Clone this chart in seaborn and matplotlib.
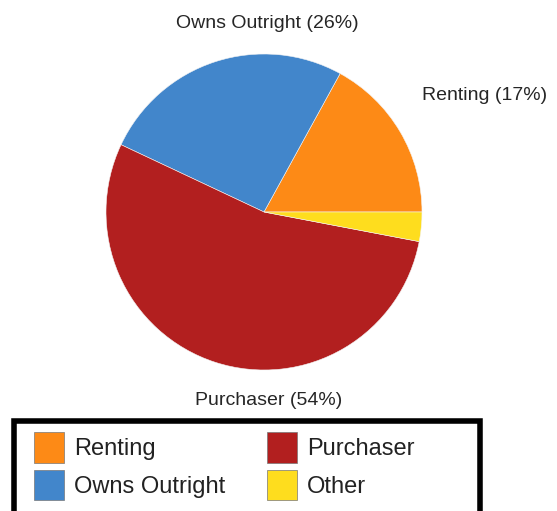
import matplotlib
matplotlib.use("Agg")
import matplotlib.pyplot as plt
import seaborn as sns
from matplotlib.patches import Patch, Rectangle

# data
categories = ['Renting', 'Owns Outright', 'Purchaser', 'Other']
shares = [17, 26, 54, 3]
colors = ['#FD8A16', '#4286CB', '#B21F1F', '#FEDD1E']

sns.set_theme(style='white')
plt.rcParams['font.family'] = ['Liberation Sans', 'DejaVu Sans']
palette = sns.color_palette(colors)

W, H = 557, 511
fig = plt.figure(figsize=(W / 100, H / 100), dpi=100)

# pie centre ~ (264, 212) px, radius ~158 px
cx, cy, r = 264, 212, 158
ax = fig.add_axes([(cx - r) / W, (H - cy - r) / H, 2 * r / W, 2 * r / H])
ax.pie(shares, colors=palette, startangle=0, counterclock=True,
       wedgeprops={'linewidth': 0.4, 'edgecolor': '#f4f4f4'})
ax.set_xlim(-1, 1)
ax.set_ylim(-1, 1)
ax.set_aspect('equal')
ax.axis('off')

labels = {c: f'{c} ({s}%)' for c, s in zip(categories, shares)}
ax.text(0.02, 1.19, labels['Owns Outright'], ha='center', va='center', fontsize=14, clip_on=False)
ax.text(1.0, 0.74, labels['Renting'], ha='left', va='center', fontsize=14, clip_on=False)
ax.text(0.03, -1.19, labels['Purchaser'], ha='center', va='center', fontsize=14, clip_on=False)

# legend: column-major, so Renting/Owns Outright on the left, Purchaser/Other on the right
handles = [Patch(facecolor=c, edgecolor='#777777', linewidth=0.5, label=n)
           for n, c in zip(categories, palette)]
leg = fig.legend(handles=handles, ncol=2, loc='upper left',
                 bbox_to_anchor=(34 / W, 1 - 432 / H), fontsize=17, frameon=False,
                 borderpad=0.0, borderaxespad=0.0, handlelength=1.27, handleheight=1.62,
                 handletextpad=0.42, labelspacing=0.3, columnspacing=1.78)
for t in leg.get_texts():
    t.set_color('#222222')

# thick black box round the legend, running off the bottom edge
fig.add_artist(Rectangle((14 / W, -12 / H), (480 - 14) / W, (511 - 421 + 12) / H,
                         transform=fig.transFigure, fill=False,
                         edgecolor='black', linewidth=4))

fig.savefig('out.png', dpi=100, facecolor='white')
